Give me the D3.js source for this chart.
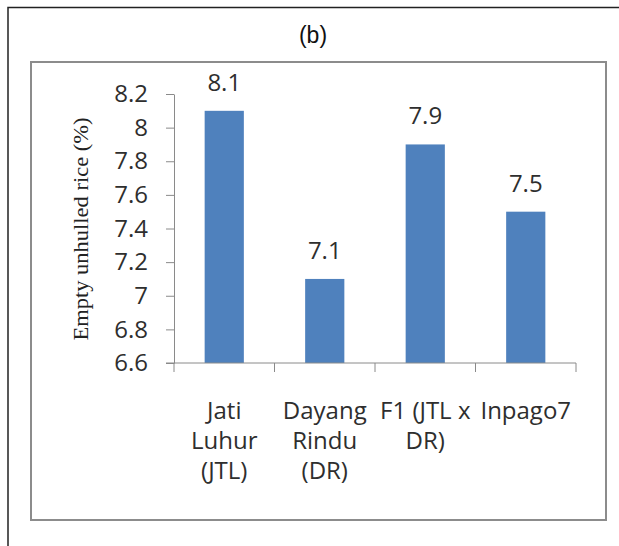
<!DOCTYPE html>
<html>
<head>
<meta charset="utf-8">
<script src="https://cdn.jsdelivr.net/npm/d3@7"></script>
<style>
  body { margin: 0; background: #fff; }
  svg { display: block; }
</style>
</head>
<body>
<div id="chart"></div>
<script>
const categories = ['Jati Luhur (JTL)', 'Dayang Rindu (DR)', 'F1 (JTL x DR)', 'Inpago7']
const labelLines = [
  ['Jati', 'Luhur', '(JTL)'],
  ['Dayang', 'Rindu', '(DR)'],
  ['F1 (JTL x', 'DR)'],
  ['Inpago7'],
]
const values = [8.1, 7.1, 7.9, 7.5]
const yTicks = [6.6, 6.8, 7, 7.2, 7.4, 7.6, 7.8, 8, 8.2]
const title = '(b)'
const yTitle = 'Empty unhulled rice (%)'

const width = 619
const height = 546
const textFont = "'Open Sans', sans-serif"
const textColor = '#2e2e2e'
const axisColor = '#8a8a8a'

const svg = d3.select('#chart').append('svg')
  .attr('width', width)
  .attr('height', height)

svg.append('rect')
  .attr('width', width)
  .attr('height', height)
  .attr('fill', 'white')

// outer frame (top and left only)
svg.append('path')
  .attr('d', 'M8,' + height + ' V7.5 H' + width)
  .attr('fill', 'none')
  .attr('stroke', '#222')
  .attr('stroke-width', 1.5)

// chart area box
svg.append('rect')
  .attr('x', 31)
  .attr('y', 62)
  .attr('width', 575)
  .attr('height', 458)
  .attr('fill', 'white')
  .attr('stroke', '#8c8c8c')
  .attr('stroke-width', 2)

svg.append('text')
  .attr('x', 313)
  .attr('y', 43)
  .attr('text-anchor', 'middle')
  .attr('font-family', "'Liberation Sans', Arial, sans-serif")
  .attr('font-size', 23)
  .attr('fill', '#111')
  .text(title)

const x = d3.scaleBand()
  .domain(categories)
  .range([174, 576])
  .paddingInner(0.61)
  .paddingOuter(0.305)

const y = d3.scaleLinear()
  .domain([6.6, 8.2])
  .range([363, 94])

// y axis
const yAxis = svg.append('g')
  .attr('transform', 'translate(174,0)')
  .call(d3.axisLeft(y)
    .tickValues(yTicks)
    .tickSize(8)
    .tickSizeOuter(0)
    .tickPadding(18)
    .tickFormat(d => String(d)))
yAxis.select('.domain').attr('stroke', axisColor)
yAxis.selectAll('.tick line').attr('stroke', axisColor)
yAxis.selectAll('.tick text')
  .attr('font-family', textFont)
  .attr('font-size', 24)
  .attr('fill', textColor)

// bars
svg.append('g')
  .selectAll('rect')
  .data(values)
  .join('rect')
  .attr('x', (d, i) => x(categories[i]))
  .attr('y', d => y(d))
  .attr('width', x.bandwidth())
  .attr('height', d => y(6.6) - y(d))
  .attr('fill', '#4f81bd')

// x axis line and ticks at category boundaries
const step = x.step()
const bounds = categories.map(c => x(c) + x.bandwidth() / 2 - step / 2)
bounds.push(x.range()[1])
svg.append('line')
  .attr('x1', 166)
  .attr('x2', x.range()[1])
  .attr('y1', y(6.6))
  .attr('y2', y(6.6))
  .attr('stroke', axisColor)
svg.append('g')
  .selectAll('line')
  .data(bounds)
  .join('line')
  .attr('x1', d => d)
  .attr('x2', d => d)
  .attr('y1', y(6.6))
  .attr('y2', y(6.6) + 9)
  .attr('stroke', axisColor)

// value labels
svg.append('g')
  .selectAll('text')
  .data(values)
  .join('text')
  .attr('x', (d, i) => x(categories[i]) + x.bandwidth() / 2)
  .attr('y', d => y(d) - 20)
  .attr('text-anchor', 'middle')
  .attr('font-family', textFont)
  .attr('font-size', 24)
  .attr('fill', textColor)
  .text(d => d)

// category labels
const catGroup = svg.append('g')
labelLines.forEach((lines, i) => {
  const cx = x(categories[i]) + x.bandwidth() / 2
  lines.forEach((line, j) => {
    catGroup.append('text')
      .attr('x', cx)
      .attr('y', 419 + j * 30)
      .attr('text-anchor', 'middle')
      .attr('font-family', textFont)
      .attr('font-size', 24)
      .attr('fill', textColor)
      .text(line)
  })
})

// y axis title
svg.append('text')
  .attr('transform', 'translate(88,229) rotate(-90)')
  .attr('text-anchor', 'middle')
  .attr('font-family', "'Liberation Serif', 'Times New Roman', serif")
  .attr('font-size', 20)
  .attr('textLength', 223)
  .attr('lengthAdjust', 'spacingAndGlyphs')
  .attr('fill', '#222')
  .text(yTitle)
</script>
</body>
</html>
